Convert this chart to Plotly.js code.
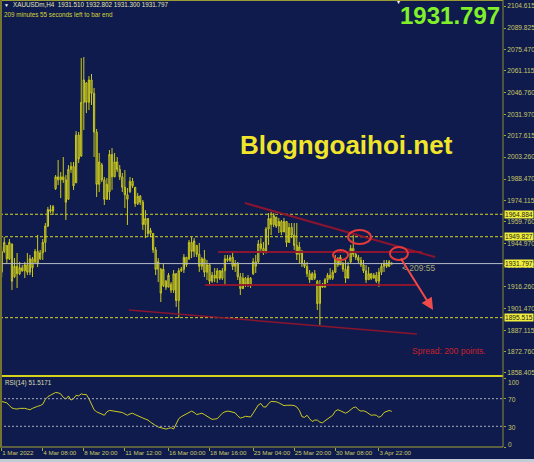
<!DOCTYPE html>
<html>
<head>
<meta charset="utf-8">
<script src="https://cdn.plot.ly/plotly-3.0.1.min.js"></script>
<style>html,body{margin:0;padding:0;background:#0f1b4c;}#chart{width:534px;height:462px;}</style>
</head>
<body>
<div id="chart"></div>
<script>
// ---- data (XAUUSDm, H4) ----
const barOpen = [1926,1940,1944,1935,1945,1923,1930,1925,1929,1927,
1931,1926,1935,1933,1940,1935,1939,1946,1957,1968,
1967,1982,1990,1988,1990,1988,1975,1995,1997,1986,
2018,2004,2040,2053,2040,2055,2046,2020,1985,1998,
1988,1975,1980,2005,1990,2000,1995,1990,1983,1978,
1980,1987,1983,1972,1977,1973,1958,1962,1952,1952,
1941,1928,1928,1917,1920,1916,1918,1914,1925,1907,
1927,1928,1936,1935,1946,1940,1944,1938,1930,1935,
1926,1931,1920,1924,1922,1927,1922,1927,1935,1934,
1936,1930,1932,1923,1915,1922,1918,1922,1925,1933,
1933,1945,1942,1939,1955,1962,1958,1963,1957,1960,
1953,1960,1946,1956,1951,1944,1938,1940,1932,1930,
1925,1921,1925,1920,1905,1917,1916,1921,1924,1922,
1926,1935,1931,1932,1928,1922,1933,1942,1938,1936,
1934,1931,1927,1921,1925,1922,1924,1920,1926,1930,
1932,1930,1931.51];
const barHigh = [1942.9,1949.6,1944.3,1948.3,1945.0,1935.5,1938.9,1932.9,1930.8,1932.9,
1938.9,1937.6,1936.2,1941.6,1951.0,1940.9,1948.3,1959.0,1969.8,1971.1,
1971.1,1991.2,2001.3,1993.2,2003.3,1991.2,1997.9,1999.9,1999.9,2020.7,
2020.1,2069.7,2070.4,2053.6,2057.6,2059.0,2049.6,2022.1,2006.0,1999.3,
1989.9,1989.2,2008.0,2009.3,2006.0,2003.3,1997.9,1992.6,1994.6,1982.5,
1989.9,1989.2,1983.2,1979.2,1977.8,1974.5,1967.7,1962.4,1955.7,1952.3,
1942.9,1935.5,1928.8,1931.5,1920.8,1925.5,1919.4,1927.5,1925.5,1928.8,
1929.5,1938.2,1936.2,1947.6,1949.6,1948.9,1944.3,1945.6,1936.2,1940.9,
1934.2,1930.8,1926.2,1928.8,1928.8,1927.5,1928.8,1937.6,1937.6,1937.6,
1939.6,1934.2,1932.9,1925.5,1925.5,1922.8,1924.1,1922.8,1935.5,1937.6,
1947.6,1948.9,1946.3,1956.3,1965.7,1966.4,1965.7,1963.1,1962.4,1961.0,
1962.4,1959.7,1959.0,1959.0,1959.0,1959.0,1946.3,1940.9,1934.2,1932.9,
1927.5,1926.2,1927.5,1920.8,1920.8,1918.8,1922.1,1925.5,1928.8,1927.5,
1937.6,1936.2,1937.6,1932.9,1934.2,1932.9,1944.3,1951.0,1938.9,1937.6,
1936.2,1934.2,1930.8,1929.5,1925.5,1925.5,1926.2,1928.8,1932.2,1934.2,
1934.2,1934.2,1932.802];
const barLow = [1922.8,1938.9,1932.2,1934.2,1914.1,1922.1,1915.4,1924.1,1926.2,1922.1,
1924.1,1924.1,1922.8,1932.2,1929.5,1934.2,1934.2,1939.6,1956.3,1965.7,
1964.4,1981.2,1984.5,1975.8,1985.9,1961.0,1974.5,1992.6,1981.2,1985.9,
1999.3,2003.3,2021.4,2032.8,2034.8,2038.2,2003.3,1976.5,1979.8,1986.5,
1971.1,1974.5,1974.5,1981.2,1989.9,1993.2,1987.9,1979.8,1969.1,1957.7,
1979.2,1982.5,1969.8,1971.1,1971.1,1954.3,1948.9,1949.6,1949.6,1938.9,
1924.1,1919.4,1906.0,1916.1,1914.1,1916.1,1912.1,1912.1,1902.7,1895.3,
1926.2,1925.5,1929.5,1934.2,1935.5,1936.2,1936.2,1926.2,1927.5,1922.8,
1920.8,1917.4,1918.8,1919.4,1918.8,1920.8,1920.8,1917.4,1932.9,1932.9,
1927.5,1926.2,1920.8,1910.7,1916.1,1916.1,1916.1,1915.4,1924.1,1925.5,
1932.2,1938.9,1937.6,1938.9,1944.3,1950.9,1956.3,1955.7,1952.3,1950.9,
1954.3,1942.9,1946.3,1948.9,1940.9,1934.2,1932.2,1929.5,1928.8,1922.8,
1918.8,1920.8,1920.8,1900.7,1890.6,1915.4,1916.1,1918.8,1920.8,1920.8,
1925.5,1929.5,1930.8,1926.2,1918.8,1922.8,1932.2,1936.2,1934.2,1932.2,
1929.5,1925.5,1918.8,1920.8,1920.8,1922.1,1918.8,1916.1,1924.1,1926.2,
1928.8,1929.5,1931.3];
const barClose = [1940,1946,1935,1946,1920,1930,1925,1929,1927,1931,
1926,1935,1929,1940,1932,1939,1946,1957,1968,1967,
1970,1990,1988,1990,1988,1973,1995,1997,1984,2018,
2002,2040,2055,2040,2055,2046,2020,1985,2000,1988,
1975,1985,2005,1990,2000,1995,1990,1983,1978,1975,
1987,1984,1972,1977,1973,1958,1962,1952,1954,1941,
1928,1933,1912,1928,1916,1924,1914,1925,1907,1927,
1928,1936,1931,1946,1940,1947,1938,1930,1935,1926,
1931,1920,1924,1922,1927,1922,1927,1935,1934,1936,
1930,1932,1923,1915,1922,1918,1922,1917,1933,1930,
1945,1942,1939,1955,1962,1958,1964,1957,1960,1953,
1960,1946,1956,1951,1944,1938,1943,1932,1930,1925,
1921,1925,1922,1905,1917,1916,1921,1924,1922,1926,
1935,1931,1936,1928,1922,1930,1942,1938,1936,1934,
1931,1927,1921,1925,1922,1924,1920,1926,1930,1932,
1930,1933,1931.797];
const rsiValues = [66,65,64,60,56.5,55.5,55,56,56.5,56,
55,54,56,58,59,60,62,69,73,75,
77,79,78.5,77,72,69.5,74,68,70,75,
74,77,76,76,70,62,54,51,49,47,
46,51,53,52.5,52,52,51,50,48,46,
48,49,47,45,44,42,40.5,39,36,33,
31,29,28,27,26,27,28,26,33,41,
44,46,49,51,52,50,47,48,49,47,
44.5,42,40,40.5,41,45,49,51,52,51.5,
51,49.5,45,42,43,44.5,44,43.5,49,55,
61,63,58,58,63,66,66,65.5,64,62,
60,60.5,61,60.5,60,58,53,44,43,46,
41,37,39,39,36,35,38,41,43,46,
52,54,52.5,51,49,51,54,57,58,54,
52,52.5,51,48,46,46.5,46,43,45,50,
52,53,51.5171];
const dateTickIdx = [0,16,32,48,65,81,98,114,130,147];
const dateTickText = ['1 Mar 2022','4 Mar 08:00','8 Mar 20:00','11 Mar 12:00','16 Mar 00:00','18 Mar 16:00','23 Mar 04:00','25 Mar 20:00','30 Mar 08:00','3 Apr 22:00'];
const priceTicks = [2104.615,2089.825,2075.470,2061.115,2046.760,2031.970,2017.615,2003.260,1988.470,1974.115,1959.760,1944.970,1930.615,1916.260,1901.470,1887.115,1872.760,1858.405];
const levelPrices = [1964.884,1949.827,1895.515];
const bidPrice = 1931.797;
const rsiLevels = [70,30];
const rsiTicks = [100,70,30,0];
// drawing objects on the chart: [index0, price0, index1, price1]
const trendLines = [[94.8,1972.4,168.9,1936.2],[84.3,1939.6,163.8,1939.6],[79.2,1917.4,161.8,1917.4],[49.6,1900.6,161.8,1884.6]];
const circles = [[135.0,1954.3,143.9,1945.0],[129.1,1940.9,135.0,1934.2],[151.3,1942.9,158.3,1934.2]];
const arrowPts = [155.2,1936.2,168.1,1900.6];

const idx = barClose.map((_, i) => i);
const W = 503, H = 447;
const px = v => v / W;
const py = v => (H - v) / H;
const tickCol = '#c8c86a';
const font = 'Liberation Sans, Arial, sans-serif';

const traces = [
  {type:'candlestick', x: idx, open: barOpen, high: barHigh, low: barLow, close: barClose,
   xaxis:'x', yaxis:'y',
   increasing:{line:{color:'#c8c81e', width:1}, fillcolor:'rgba(104,104,50,0.95)'},
   decreasing:{line:{color:'#c8c81e', width:1}, fillcolor:'rgba(104,104,50,0.95)'},
   whiskerwidth:0, hoverinfo:'skip', showlegend:false},
  {type:'scatter', mode:'lines', x: idx, y: rsiValues, xaxis:'x', yaxis:'y2',
   line:{color:'#cccc22', width:1}, hoverinfo:'skip', showlegend:false}
];

const shapes = [];
levelPrices.forEach(p => shapes.push({type:'line', xref:'paper', yref:'y', x0:0, x1:1, y0:p, y1:p, line:{color:'#d6d620', width:1, dash:'3px,2px'}}));
shapes.push({type:'line', xref:'paper', yref:'y', x0:0, x1:1, y0:bidPrice, y1:bidPrice, line:{color:'#b8bcc8', width:1}});
rsiLevels.forEach(r => shapes.push({type:'line', xref:'paper', yref:'y2', x0:0, x1:1, y0:r, y1:r, line:{color:'#a8acbc', width:1, dash:'2px,2px'}}));
trendLines.forEach((t, k) => shapes.push({type:'line', xref:'x', yref:'y', x0:t[0], y0:t[1], x1:t[2], y1:t[3], line:{color: 'rgba(150,20,44,0.92)', width: k===3 ? 1.5 : 2}}));
circles.forEach(c => shapes.push({type:'circle', xref:'x', yref:'y', x0:c[0], y0:c[1], x1:c[2], y1:c[3], line:{color:'#e63a3a', width:2}}));
// frame
shapes.push({type:'line', xref:'paper', yref:'paper', x0:0, x1:1, y0:py(376), y1:py(376), line:{color:'#d4d41c', width:2}});
shapes.push({type:'line', xref:'paper', yref:'paper', x0:0, x1:1, y0:0.999, y1:0.999, line:{color:'#a4a434', width:1}});
shapes.push({type:'line', xref:'paper', yref:'paper', x0:0, x1:1, y0:0, y1:0, line:{color:'#a4a434', width:1}});
shapes.push({type:'line', xref:'paper', yref:'paper', x0:px(1), x1:px(1), y0:0, y1:1, line:{color:'#74742e', width:2}});
shapes.push({type:'line', xref:'paper', yref:'paper', x0:1, x1:1, y0:0, y1:1, line:{color:'#8c8c30', width:1}});
shapes.push({type:'rect', xref:'paper', yref:'paper', x0:-0.01, x1:1.08, y0:py(462), y1:py(459), line:{width:0}, fillcolor:'#c4ccd8'});

const ann = [];
const A = (o) => ann.push(Object.assign({showarrow:false, xref:'paper', yref:'paper', font:{family:font, size:6.6, color:tickCol}}, o));
A({x:px(2), y:py(5), xanchor:'left', yanchor:'middle', text:'▼', font:{family:font, size:5, color:'#f0f0f0'}});
A({x:px(11), y:py(5), xanchor:'left', yanchor:'middle', text:'XAUUSDm,H4  1931.510 1932.802 1931.300 1931.797', font:{family:font, size:6.3, color:'#e4e4b8'}});
A({x:px(2), y:py(15), xanchor:'left', yanchor:'middle', text:'209 minutes 55 seconds left to bar end', font:{family:font, size:6.3, color:'#d4d43a'}});
A({x:px(398), y:py(2), xanchor:'center', yanchor:'middle', text:'▾', font:{family:font, size:6, color:'#f0f0f0'}});
A({x:px(450), y:py(16), xanchor:'center', yanchor:'middle', text:'<b>1931.797</b>', font:{family:font, size:24, color:'#7ff02a'}});
A({x:px(346), y:py(145), xanchor:'center', yanchor:'middle', text:'<b>Blogngoaihoi.net</b>', font:{family:font, size:26, color:'#f0e52a'}});
A({x:px(410), y:py(351), xanchor:'left', yanchor:'middle', text:'Spread: 200 points.', font:{family:font, size:8.5, color:'#c8202c'}});
A({x:px(400), y:py(268), xanchor:'left', yanchor:'middle', text:'< 209:55', font:{family:font, size:8.5, color:'#a8a876'}});
A({x:px(3), y:py(383), xanchor:'left', yanchor:'middle', text:'RSI(14) 51.5171', font:{family:font, size:6.3, color:'#dcdcb4'}});
A({x:arrowPts[2], y:arrowPts[3], ax:arrowPts[0], ay:arrowPts[1], xref:'x', yref:'y', axref:'x', ayref:'y', showarrow:true, text:'', arrowhead:2, arrowsize:1.2, arrowwidth:2, arrowcolor:'#f04a4a'});
levelPrices.concat([bidPrice]).forEach(p => A({x:1, xshift:1, yref:'y', y:p, xanchor:'left', yanchor:'middle', text:p.toFixed(3), bgcolor:'#f0f03c', borderpad:0, font:{family:font, size:6.6, color:'#1c1c1c'}}));
const rsiPix = {100:382, 70:399, 30:427, 0:444};
rsiTicks.forEach(r => A({x:1, xshift:3, y:py(rsiPix[r]), xanchor:'left', yanchor:'middle', text:String(r)}));

const layout = {
  width:534, height:462, margin:{l:0, r:31, t:0, b:15},
  paper_bgcolor:'#0f1b4c', plot_bgcolor:'#0f1b4c', showlegend:false,
  xaxis:{anchor:'y2', range:[-0.66,195.36], rangeslider:{visible:false}, showgrid:false, zeroline:false, showline:false,
    tickmode:'array', tickvals:dateTickIdx, ticktext:dateTickText, ticks:'outside', ticklen:3, tickcolor:'#a4a434', tickangle:0,
    ticklabelposition:'outside right', tickfont:{family:font, size:6.2, color:tickCol}},
  yaxis:{domain:[py(375),1], range:[1857.05,2108.64], side:'right', anchor:'x', showgrid:false, zeroline:false, showline:false,
    tickmode:'array', tickvals:priceTicks, ticktext:priceTicks.map(v => v.toFixed(3)), ticks:'outside', ticklen:2, tickcolor:'#a4a434',
    tickfont:{family:font, size:6.6, color:tickCol}},
  yaxis2:{domain:[0,py(378)], range:[0,100], side:'right', anchor:'x', showgrid:false, zeroline:false, showline:false,
    tickmode:'array', tickvals:rsiTicks, showticklabels:false, ticks:'outside', ticklen:2, tickcolor:'#a4a434'},
  shapes: shapes, annotations: ann
};
Plotly.newPlot('chart', traces, layout, {staticPlot:true, displayModeBar:false});
</script>
</body>
</html>
